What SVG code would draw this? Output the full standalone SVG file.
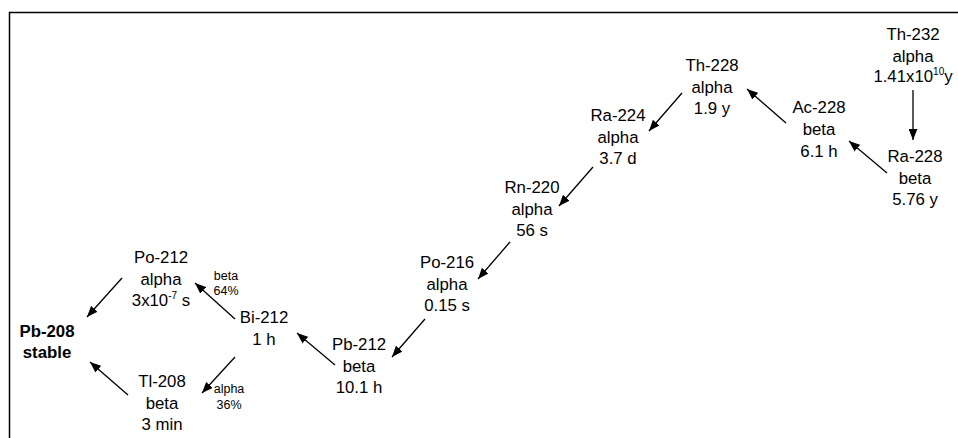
<svg xmlns="http://www.w3.org/2000/svg" width="958" height="438" viewBox="0 0 958 438">
<defs>
<marker id="ah" viewBox="0 0 10 8" refX="10" refY="4" markerWidth="11" markerHeight="9" markerUnits="userSpaceOnUse" orient="auto">
<path d="M0,0 L10,4 L0,8 Z" fill="#000"/>
</marker>
</defs>
<style>
text{font-family:"Liberation Sans",Arial,Helvetica,sans-serif;fill:#000;text-anchor:middle}
.n{font-size:16.8px}
.b{font-weight:bold}
.s{font-size:12.5px}
.sup{font-size:10px}
.c line{stroke:#000;stroke-width:1.3;marker-end:url(#ah)}
</style>
<rect width="958" height="438" fill="#fff"/>
<path d="M9.5,438 V12.5 H958" fill="none" stroke="#000" stroke-width="1.5"/>
<g id="th232"><text class="n" x="913" y="40">Th-232</text><text class="n" x="913" y="62">alpha</text><text class="n" x="913" y="82">1.41x10<tspan class="sup" dy="-7">10</tspan><tspan dy="7">y</tspan></text></g>
<g id="ra228"><text class="n" x="915" y="162">Ra-228</text><text class="n" x="915" y="184">beta</text><text class="n" x="915" y="205">5.76 y</text></g>
<g id="ac228"><text class="n" x="819" y="113">Ac-228</text><text class="n" x="819" y="135">beta</text><text class="n" x="819" y="157">6.1 h</text></g>
<g id="th228"><text class="n" x="712" y="71">Th-228</text><text class="n" x="712" y="93">alpha</text><text class="n" x="712" y="114">1.9 y</text></g>
<g id="ra224"><text class="n" x="618" y="121">Ra-224</text><text class="n" x="618" y="143">alpha</text><text class="n" x="618" y="164">3.7 d</text></g>
<g id="rn220"><text class="n" x="532" y="193">Rn-220</text><text class="n" x="532" y="215">alpha</text><text class="n" x="532" y="236">56 s</text></g>
<g id="po216"><text class="n" x="447" y="268">Po-216</text><text class="n" x="447" y="290">alpha</text><text class="n" x="447" y="311">0.15 s</text></g>
<g id="pb212"><text class="n" x="359" y="350">Pb-212</text><text class="n" x="359" y="372">beta</text><text class="n" x="359" y="393">10.1 h</text></g>
<g id="bi212"><text class="n" x="264" y="323">Bi-212</text><text class="n" x="264" y="345">1 h</text></g>
<g id="po212"><text class="n" x="161" y="263">Po-212</text><text class="n" x="161" y="285">alpha</text><text class="n" x="161" y="306">3x10<tspan class="sup" dy="-7">-7</tspan><tspan dy="7"> s</tspan></text></g>
<g id="tl208"><text class="n" x="162" y="387">Tl-208</text><text class="n" x="162" y="409">beta</text><text class="n" x="162" y="430">3 min</text></g>
<g id="pb208"><text class="n b" x="47" y="337">Pb-208</text><text class="n b" x="47" y="358">stable</text></g>
<g id="labels"><text class="s" x="226" y="280">beta</text><text class="s" x="226" y="295">64%</text><text class="s" x="229" y="393">alpha</text><text class="s" x="229" y="409">36%</text></g>
<g class="c" id="connectors">
<line x1="913" y1="90" x2="913" y2="140"/>
<line x1="887" y1="173" x2="849" y2="141"/>
<line x1="786" y1="123" x2="747" y2="89"/>
<line x1="682" y1="93" x2="649" y2="131"/>
<line x1="593" y1="167" x2="559" y2="206"/>
<line x1="510" y1="242" x2="478" y2="279"/>
<line x1="425" y1="319" x2="392" y2="357"/>
<line x1="335" y1="365" x2="297" y2="333"/>
<line x1="235" y1="319" x2="195" y2="283"/>
<line x1="122" y1="278" x2="87" y2="317"/>
<line x1="235" y1="357" x2="202" y2="393"/>
<line x1="128" y1="395" x2="90" y2="362"/>
</g>
</svg>
